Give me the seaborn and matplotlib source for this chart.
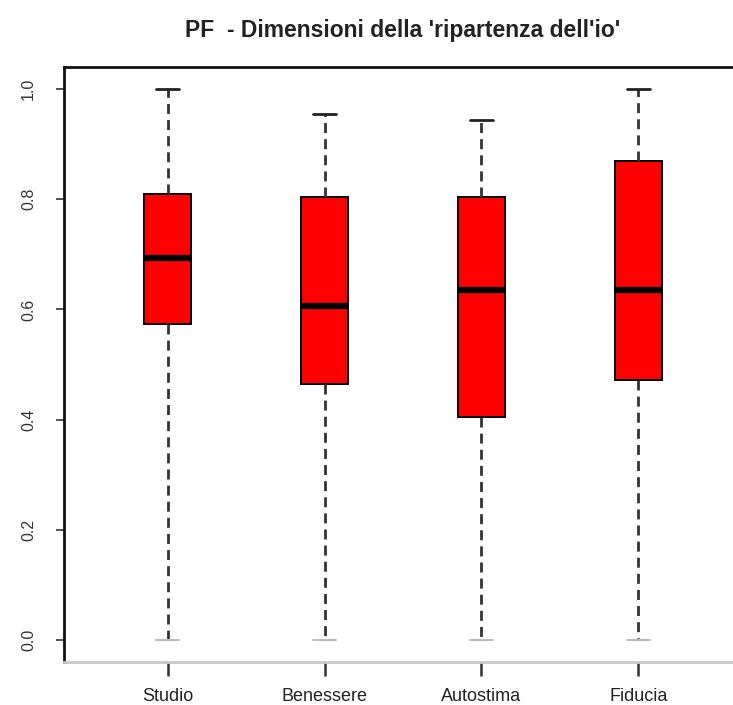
import numpy as np
import pandas as pd
import matplotlib
matplotlib.use("Agg")
import matplotlib.pyplot as plt
import seaborn as sns

# --- data (five-number summaries per dimension) ---
categories = ["Studio", "Benessere", "Autostima", "Fiducia"]
whisker_low = [0.0, 0.0, 0.0, 0.0]
q1 = [0.574, 0.464, 0.404, 0.471]
median = [0.694, 0.607, 0.636, 0.636]
q3 = [0.810, 0.804, 0.804, 0.870]
whisker_high = [1.0, 0.955, 0.944, 1.0]
ytick_values = [0.0, 0.2, 0.4, 0.6, 0.8, 1.0]
ytick_labels = ["0.0", "0.2", "0.4", "0.6", "0.8", "1.0"]
title = "PF  - Dimensioni della 'ripartenza dell'io'"

rows = []
for i, c in enumerate(categories):
    for v in (whisker_low[i], q1[i], median[i], q3[i], whisker_high[i]):
        rows.append({"dimensione": c, "valore": v})
df = pd.DataFrame(rows)

sns.set_style("white")
plt.rcParams["font.family"] = ["Liberation Sans", "DejaVu Sans"]

fig = plt.figure(figsize=(7.33, 7.05), dpi=100)
ax = fig.add_axes([64 / 733, 43 / 705, 678 / 733, 595 / 705])

sns.boxplot(
    data=df, x="dimensione", y="valore", order=categories,
    color="#ff0000", saturation=1, width=0.30, whis=(0, 100),
    linecolor="black", linewidth=1.4, ax=ax,
    medianprops={"linewidth": 4.5, "color": "black"},
    whiskerprops={"linestyle": (0, (3.6, 2.2)), "linewidth": 2.0, "color": "#333333"},
    capprops={"linewidth": 2.0, "color": "#222222"},
)

# lower caps appear faint in the reference
for ln in ax.lines:
    yd = np.asarray(ln.get_ydata(), dtype=float)
    xd = np.asarray(ln.get_xdata(), dtype=float)
    if len(yd) == 2 and yd[0] == yd[1] and xd[0] != xd[1] and np.isclose(yd[0], 0.0):
        ln.set_color("#bdbdbd")
        ln.set_linewidth(1.5)

ax.set_xlim(-0.66, 3.66)
ax.set_ylim(-0.04, 1.04)
ax.set_xlabel("")
ax.set_ylabel("")

ax.set_yticks(ytick_values)
ax.set_yticklabels(ytick_labels, rotation=90, va="center", fontsize=11.5, color="#333333")
ax.set_xticks(range(len(categories)))
ax.set_xticklabels(categories, fontsize=13, color="#222222")

ax.tick_params(axis="y", direction="out", length=6, width=1.2, color="#333333", pad=14, left=True)
ax.tick_params(axis="x", direction="out", length=10, width=1.8, color="#333333", pad=9, bottom=True)

for side in ["left", "top"]:
    ax.spines[side].set_color("#111111")
    ax.spines[side].set_linewidth(2.0)
ax.spines["bottom"].set_color("#c8c8c8")
ax.spines["bottom"].set_linewidth(2.0)
ax.spines["right"].set_visible(False)

fig.text(403 / 733, 1 - 31 / 705, title, ha="center", va="center",
         fontsize=16.5, fontweight="bold", color="#222222")

fig.savefig("out.png", dpi=100)
